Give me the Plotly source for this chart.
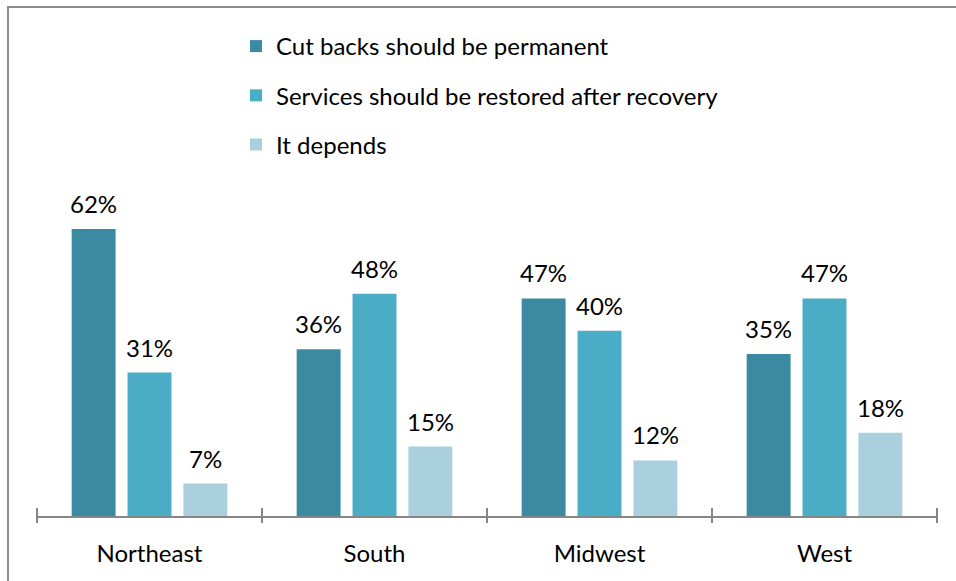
import plotly.graph_objects as go

# Survey results by region
regions = ["Northeast", "South", "Midwest", "West"]
series_names = [
    "Cut backs should be permanent",
    "Services should be restored after recovery",
    "It depends",
]
cut_backs_permanent = [62, 36, 47, 35]
services_restored = [31, 48, 40, 47]
it_depends = [7, 15, 12, 18]
series_values = [cut_backs_permanent, services_restored, it_depends]
series_colors = ["#3A8BA1", "#4BACC6", "#AACFDD"]

FONT = "Lato"
FONT_SIZE = 24
BARGAP = 0.255
BARGROUPGAP = 0.214
Y_MAX = 70

fig = go.Figure()
for name, vals, color in zip(series_names, series_values, series_colors):
    fig.add_trace(go.Bar(
        x=regions, y=vals, name=name, legendgroup=name,
        marker=dict(color=color, line=dict(width=0)),
        hoverinfo="skip",
    ))

# Percentage labels above each bar
n_series = len(series_values)
slot = (1 - BARGAP) / n_series
annotations = []
for k, vals in enumerate(series_values):
    for i, v in enumerate(vals):
        annotations.append(dict(
            x=i + (k - (n_series - 1) / 2) * slot, y=v, xref="x", yref="y",
            text=f"{v}%", showarrow=False, yanchor="bottom", yshift=9,
            font=dict(family=FONT, size=FONT_SIZE, color="#000000"),
        ))

# Category boundary ticks crossing the axis line
plot_h = 324
shapes = []
for i in range(len(regions) + 1):
    shapes.append(dict(
        type="line", xref="x", yref="paper",
        x0=i - 0.5, x1=i - 0.5, y0=-7 / plot_h, y1=8 / plot_h,
        line=dict(color="#868686", width=2),
    ))

# Frame along the top and left edges
plot_w = 902
left_x = (8 - 36) / plot_w
top_y = (516 - 7) / plot_h
shapes.append(dict(
    type="path", xref="paper", yref="paper",
    path=f"M {left_x} {-100 / plot_h} L {left_x} {top_y} L {1.2} {top_y}",
    line=dict(color="#8C8C8C", width=2),
))

fig.update_layout(
    width=956, height=581,
    margin=dict(l=36, r=18, t=192, b=65, autoexpand=False),
    paper_bgcolor="white", plot_bgcolor="white",
    barmode="group", bargap=BARGAP, bargroupgap=BARGROUPGAP,
    font=dict(family=FONT, size=FONT_SIZE, color="#000000"),
    showlegend=True,
    legend=dict(
        orientation="v", xref="container", yref="container",
        x=236 / 956, y=1 - 24 / 581, xanchor="left", yanchor="top",
        font=dict(family=FONT, size=FONT_SIZE, color="#000000"),
        tracegroupgap=15, bgcolor="rgba(0,0,0,0)",
    ),
    xaxis=dict(
        type="category", showline=True, linecolor="#868686", linewidth=2,
        ticks="", showgrid=False, zeroline=False, tickangle=0,
        tickfont=dict(family=FONT, size=FONT_SIZE, color="#000000"),
        ticklabelstandoff=15,
    ),
    yaxis=dict(range=[0, Y_MAX], visible=False, showgrid=False, zeroline=False),
    annotations=annotations,
    shapes=shapes,
)

fig.write_html("out.html")
